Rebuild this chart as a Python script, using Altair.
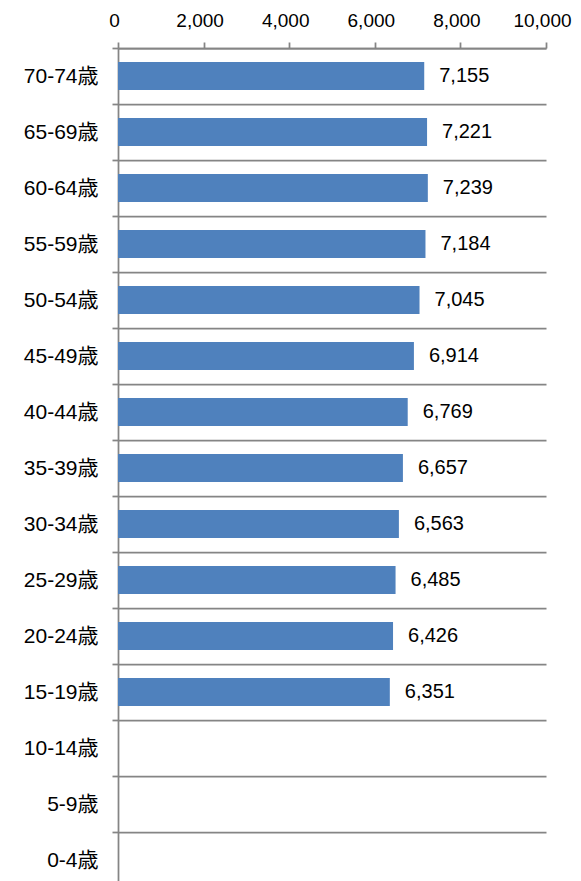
import altair as alt
import pandas as pd

ages = ["70-74歳", "65-69歳", "60-64歳", "55-59歳", "50-54歳", "45-49歳", "40-44歳",
        "35-39歳", "30-34歳", "25-29歳", "20-24歳", "15-19歳", "10-14歳", "5-9歳", "0-4歳"]
values = [7155, 7221, 7239, 7184, 7045, 6914, 6769, 6657, 6563, 6485, 6426, 6351, None, None, None]
x_ticks = [0, 2000, 4000, 6000, 8000, 10000]

df = pd.DataFrame({"age": ages, "value": values})

FONT = "Liberation Sans, Arial, Noto Sans CJK JP, sans-serif"
GREY = "#858585"

y_enc = alt.Y("age:N", sort=ages, title=None,
              scale=alt.Scale(paddingInner=0, paddingOuter=0),
              axis=alt.Axis(tickBand="extent", grid=True, gridColor=GREY, gridWidth=1.75,
                            domainColor=GREY, domainWidth=1.75, tickColor=GREY, tickWidth=1.75,
                            tickSize=6, labelPadding=14, labelFontSize=21, labelColor="#000000",
                            labelFont=FONT))
x_enc = alt.X("value:Q", title=None,
              scale=alt.Scale(domain=[0, 10000], nice=False),
              axis=alt.Axis(orient="top", values=x_ticks, format=",d", grid=False,
                            labelOverlap=False, labelBound=False, labelFlush=False,
                            labelOffset=-4,
                            domainColor=GREY, domainWidth=1.75, tickColor=GREY, tickWidth=1.75,
                            tickSize=6, labelPadding=12, labelFontSize=19, labelColor="#000000",
                            labelFont=FONT))

bars = alt.Chart(df).mark_bar(color="#4F81BD", height=alt.RelativeBandSize(band=0.5)).encode(
    x=x_enc, y=y_enc)
labels = alt.Chart(df).mark_text(align="left", baseline="middle", dx=15, fontSize=20,
                                 font=FONT, color="#000000").encode(
    x=x_enc, y=y_enc,
    text=alt.Text("value:Q", format=","))

chart = (bars + labels).properties(
    width=428, height=840,
    background="white",
    autosize=alt.AutoSizeParams(type="none"),
    padding={"left": 110, "top": 40, "right": 27, "bottom": 10},
).configure_view(stroke=None)

chart.save("out.html", embed_options={"renderer": "svg", "actions": False})
